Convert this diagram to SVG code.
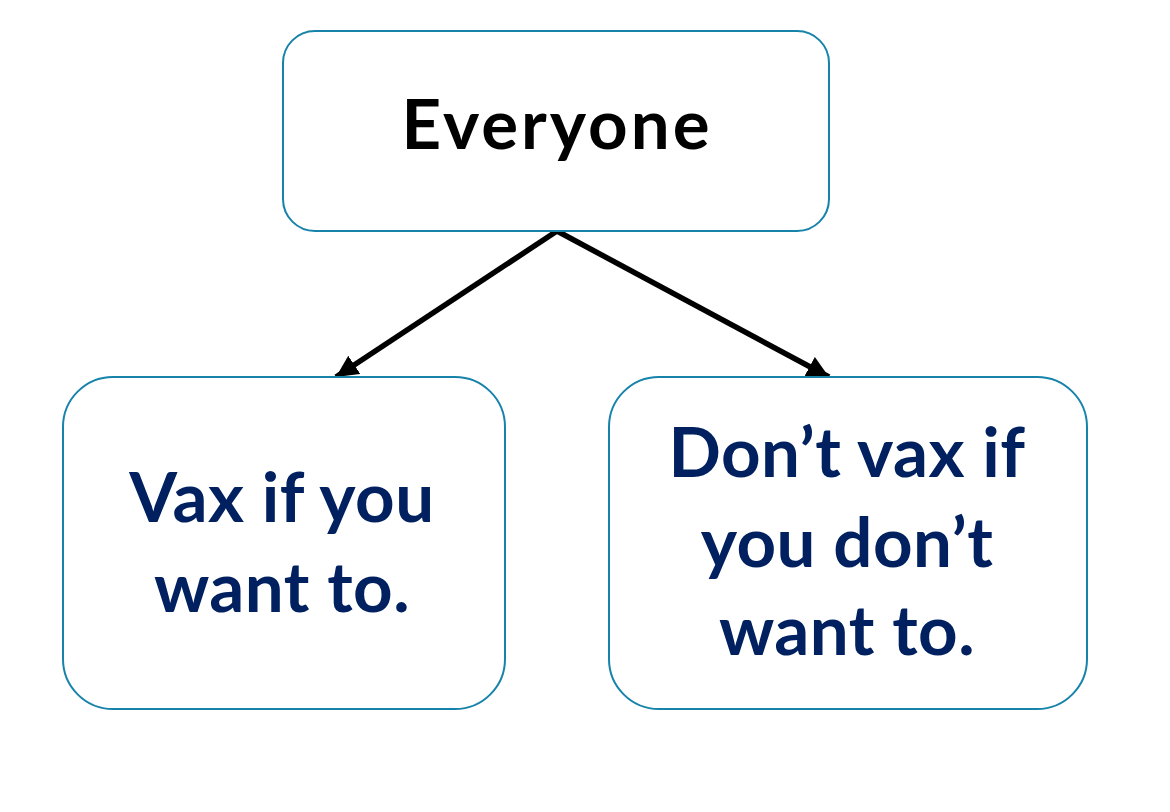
<svg xmlns="http://www.w3.org/2000/svg" width="1170" height="812" viewBox="0 0 1170 812">
<defs>
<style>
.box{fill:#fff;stroke:#1783AA;stroke-width:2}
.t{font-family:Lato,"Liberation Sans",sans-serif;font-weight:bold;font-size:69px;text-anchor:middle;letter-spacing:0.5px}
.top{fill:#000;letter-spacing:3px}
.sub{fill:#002060}
.conn{stroke:#000;stroke-width:5.5;fill:none}
</style>
<marker id="ah" markerUnits="userSpaceOnUse" markerWidth="24" markerHeight="22" refX="22" refY="11" orient="auto">
<path d="M0,0 L22,11 L0,22 Z" fill="#000"/>
</marker>
</defs>
<rect width="1170" height="812" fill="#fff"/>
<g id="connectors">
<line class="conn" x1="557" y1="231" x2="336" y2="377" marker-end="url(#ah)"/>
<line class="conn" x1="557" y1="231" x2="829" y2="377" marker-end="url(#ah)"/>
</g>
<g id="everyone">
<rect class="box" x="283" y="31" width="546" height="200" rx="32" ry="32"/>
<text class="t top" x="557" y="149">Everyone</text>
</g>
<g id="vax">
<rect class="box" x="63" y="377" width="442" height="332" rx="50" ry="50"/>
<text class="t sub" x="282" y="522">Vax if you</text>
<text class="t sub" x="282" y="612">want to.</text>
</g>
<g id="dontvax">
<rect class="box" x="609" y="377" width="478" height="332" rx="50" ry="50"/>
<text class="t sub" x="847" y="477">Don’t vax if</text>
<text class="t sub" x="847" y="567">you don’t</text>
<text class="t sub" x="847" y="655">want to.</text>
</g>
</svg>
